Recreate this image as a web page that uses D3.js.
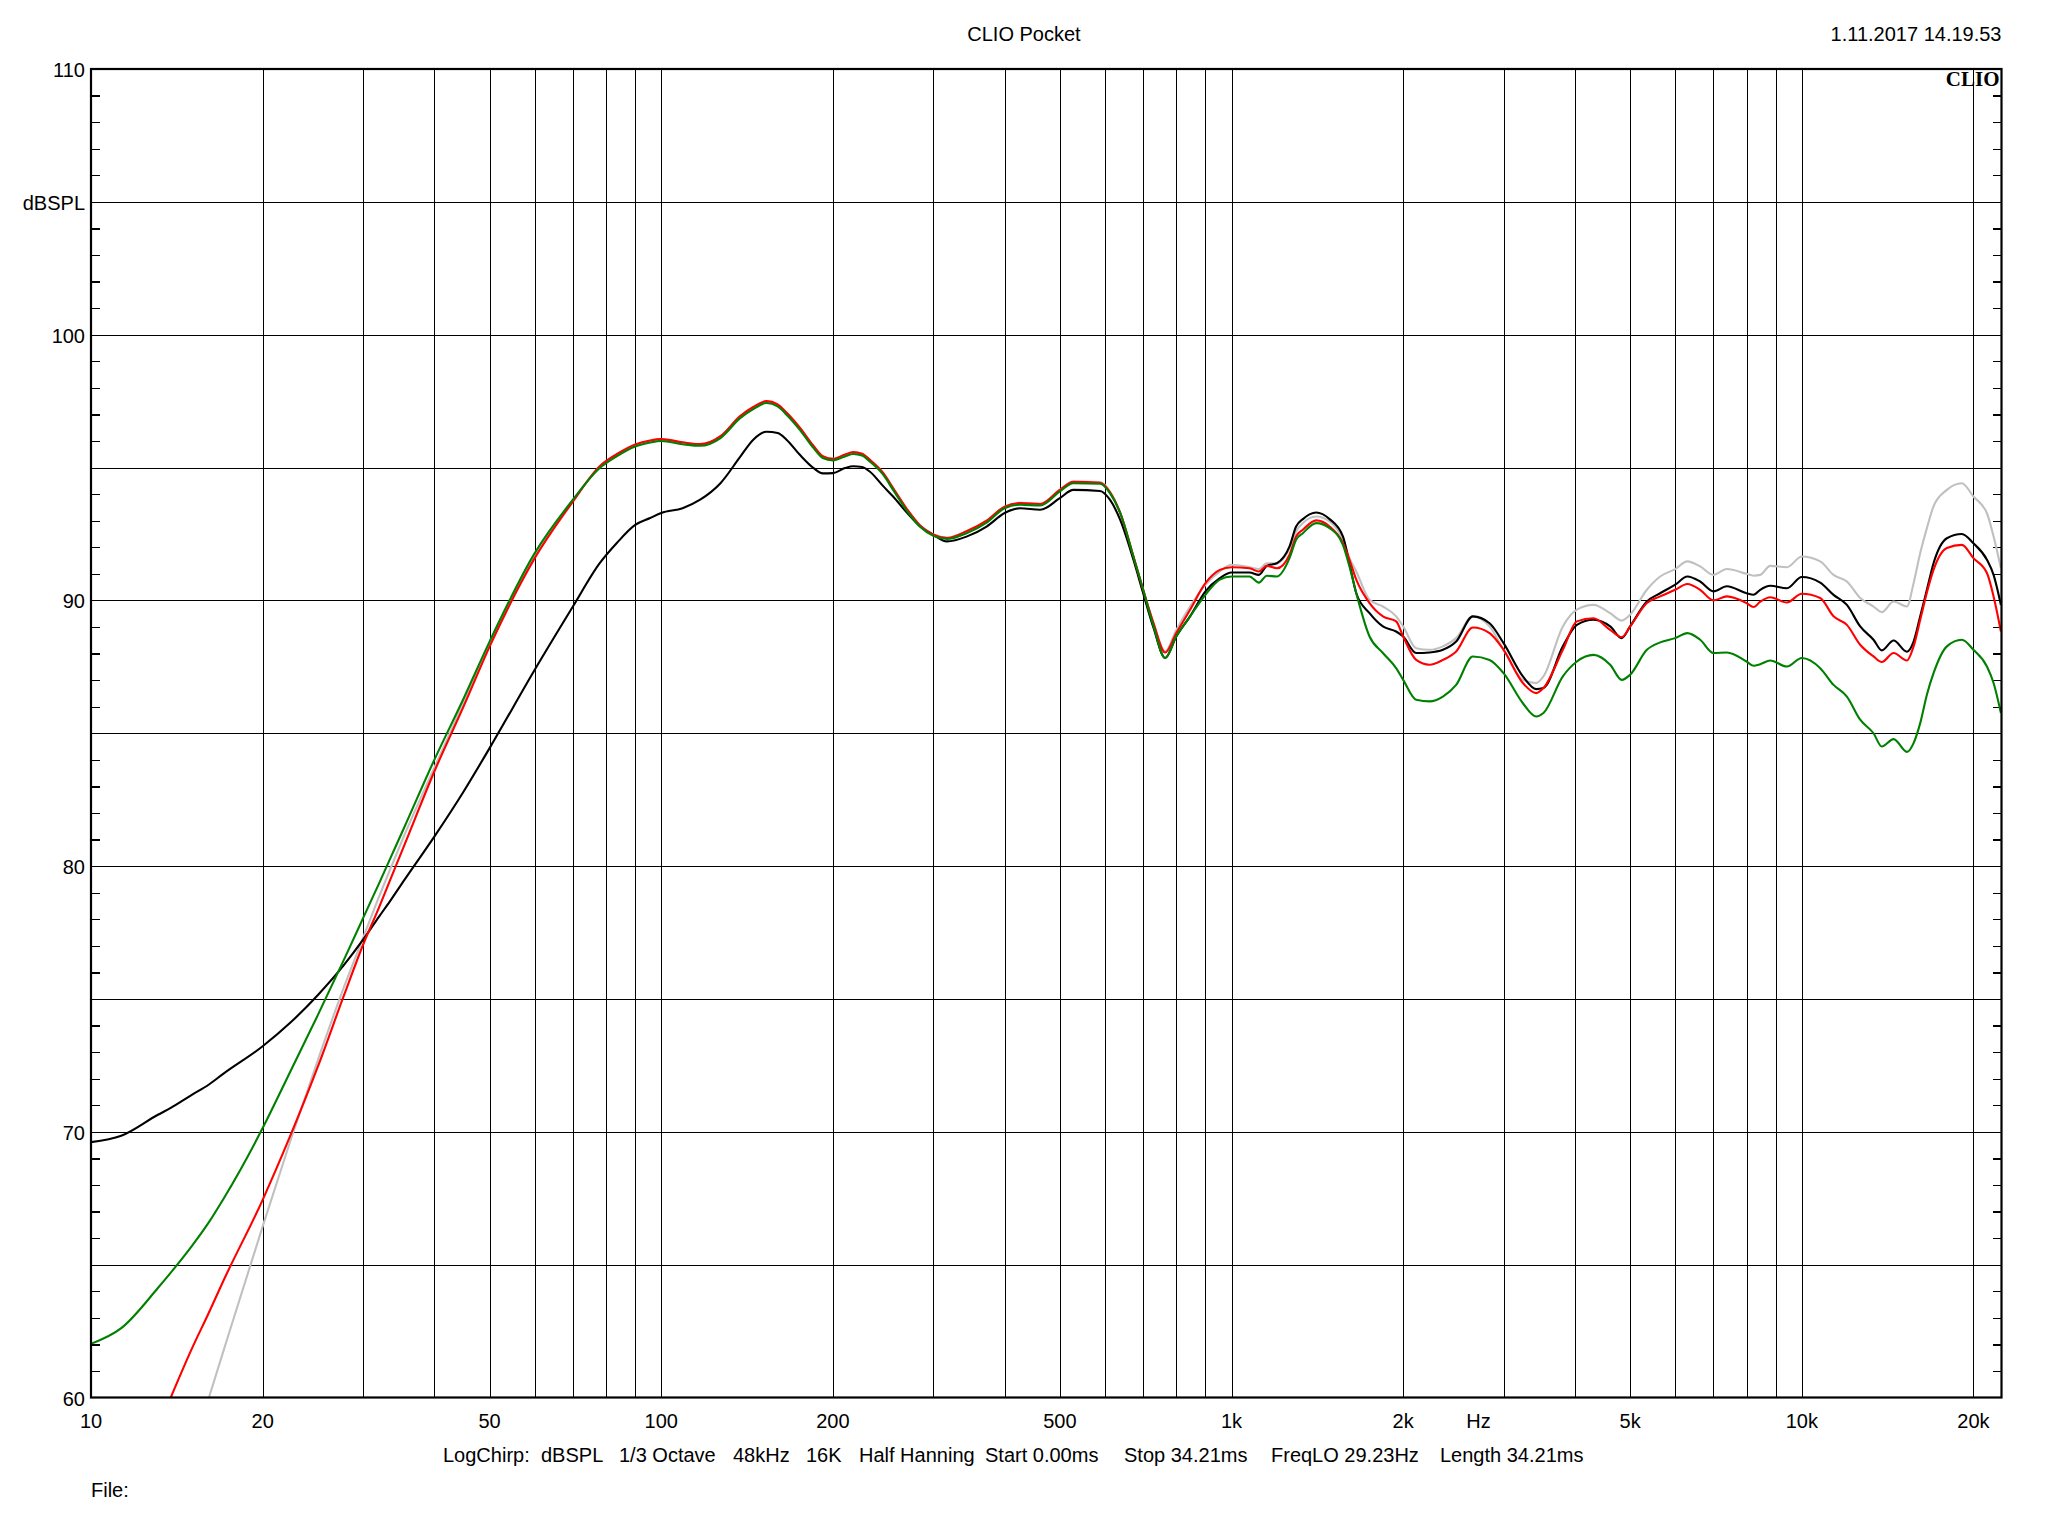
<!DOCTYPE html>
<html><head><meta charset="utf-8">
<script src="https://cdn.jsdelivr.net/npm/d3@7"></script>
<style>html,body{margin:0;padding:0;background:#fff}</style>
</head><body>
<svg id="c" width="2048" height="1536"></svg>
<script>
// ---- data (frequency in Hz, level in dBSPL) ----
const freqs = [10,11.3,13.1,13.8,15,16.1,17.1,20,22.4,25,27.8,30,32,33.5,35.5,40,45,50,60,70,
78,83.5,90,95.6,100,109,117,127,137.5,145,153,160,166,175,185,192,200,210,217,225,232,245,255,270,284,
300,317,343,372,400,426,462,500,528,588,612,638,673,700,730,765,800,846,900,954,1000,1075,1117,1153,1201,
1264,1298,1334,1408,1486,1568,1610,1655,1746,1843,1944,2000,2108,2225,2348,2477,2650,2835,3000,3243,3422,
3524,3811,4033,4313,4613,4834,5000,5350,5645,6000,6300,6634,7000,7390,8000,8233,8455,8805,9417,10000,
10773,11369,11998,12660,13360,13815,14489,15290,15707,16133,16573,17024,17966,19088,20000,21120,21694,22347];

const blackDb = [69.61,69.85,70.64,70.9,71.38,71.78,72.2,73.22,74.12,75.15,76.29,77.23,78.1,78.7,79.5,81.11,82.8,84.44,87.39,89.77,
91.4,92.15,92.84,93.1,93.29,93.47,93.79,94.41,95.4,96.05,96.35,96.3,96.04,95.48,94.98,94.78,94.79,94.98,95.05,95.02,94.85,94.3,93.91,93.29,92.8,
92.47,92.22,92.4,92.78,93.29,93.47,93.41,93.85,94.16,94.12,93.79,93.03,91.53,90.27,88.96,87.83,88.64,89.4,90.34,90.84,91.05,91.05,90.96,91.3,91.4,
92.03,92.78,93.06,93.31,93.06,92.41,91.4,90.27,89.52,89.02,88.83,88.64,88.02,88.04,88.14,88.45,89.4,89.14,88.39,87.14,86.66,
86.7,88.27,89.08,89.27,89.02,88.58,89.02,89.96,90.27,90.59,90.9,90.71,90.34,90.53,90.27,90.21,90.4,90.55,90.46,90.88,
90.67,90.21,89.83,89.02,88.52,88.12,88.49,88.07,88.45,89.4,90.4,91.4,92.34,92.5,92.15,91.53,90.96,89.83];

const redDb = [null,null,null,60.0,61.8,63.2,64.43,67.44,69.89,72.46,75.16,77.04,78.45,79.5,80.83,83.56,86.0,88.26,91.59,93.72,
95.05,95.5,95.87,96.02,96.07,95.95,95.88,96.18,96.94,97.28,97.5,97.38,97.06,96.5,95.81,95.43,95.33,95.49,95.58,95.52,95.3,94.8,94.23,93.42,92.83,
92.47,92.35,92.6,93.0,93.53,93.66,93.63,94.16,94.46,94.43,94.08,93.29,91.65,90.4,89.14,88.04,88.77,89.65,90.65,91.15,91.25,91.21,91.09,91.3,91.21,
91.72,92.41,92.66,93.01,92.78,92.16,91.53,90.78,89.9,89.4,89.21,88.64,87.76,87.58,87.76,88.08,88.98,88.77,88.14,86.89,86.51,
86.7,88.14,89.21,89.33,88.89,88.62,89.02,89.9,90.15,90.4,90.62,90.4,90.0,90.15,89.9,89.75,89.95,90.12,89.92,90.25,
90.09,89.4,89.08,88.33,87.89,87.68,88.02,87.74,88.27,89.27,90.3,91.15,91.97,92.09,91.59,91.03,90.15,88.83];

const grayDb = [null,null,null,null,null,60.0,61.8,66.44,69.7,72.71,75.47,77.3,78.85,79.9,81.2,83.7,86.15,88.35,91.65,93.76,
95.03,95.48,95.85,96.0,96.06,95.94,95.88,96.17,96.92,97.26,97.49,97.36,97.04,96.48,95.79,95.42,95.33,95.48,95.57,95.51,95.29,94.79,94.22,93.41,92.84,
92.49,92.37,92.6,93.0,93.53,93.67,93.64,94.16,94.47,94.45,94.1,93.29,91.65,90.4,89.14,88.08,88.89,89.77,90.59,91.09,91.34,91.25,91.18,91.4,91.4,
91.97,92.6,92.91,93.16,92.97,92.28,91.59,91.09,90.02,89.77,89.4,89.02,88.2,88.14,88.27,88.58,89.4,89.02,88.14,87.01,86.89,
87.14,89.02,89.65,89.83,89.52,89.24,89.46,90.4,90.9,91.18,91.47,91.28,90.96,91.18,91.0,90.93,90.96,91.3,91.25,91.65,
91.47,90.96,90.71,90.09,89.77,89.56,89.96,89.77,90.65,91.78,92.72,93.54,94.16,94.41,93.91,93.28,92.41,91.21];

const greenDb = [62.02,62.61,64.12,64.7,65.68,66.6,67.5,70.14,72.3,74.4,76.5,78.04,79.35,80.3,81.5,84.0,86.3,88.45,91.78,93.79,
94.98,95.42,95.79,95.94,96.0,95.88,95.82,96.11,96.86,97.2,97.43,97.3,96.98,96.42,95.73,95.36,95.27,95.42,95.51,95.45,95.23,94.73,94.16,93.35,92.78,
92.43,92.31,92.53,92.93,93.47,93.6,93.57,94.1,94.41,94.39,94.04,93.29,91.65,90.4,89.02,87.83,88.64,89.4,90.21,90.78,90.9,90.9,90.67,90.93,90.9,
91.59,92.28,92.53,92.91,92.72,92.09,91.28,90.27,88.64,88.02,87.45,87.01,86.26,86.2,86.38,86.82,87.89,87.76,87.26,86.13,85.63,
85.76,87.14,87.7,87.95,87.58,87.01,87.2,88.14,88.42,88.58,88.77,88.52,88.02,88.04,87.7,87.54,87.6,87.74,87.51,87.83,
87.45,86.82,86.38,85.51,85.0,84.5,84.78,84.3,84.63,85.38,86.45,87.26,88.27,88.52,88.14,87.51,86.89,85.76];

const seriesNames = ["gray","black","red","green"];
const seriesColors = ["#c0c0c0","#000000","#ff0000","#008000"];
const seriesValues = [grayDb, blackDb, redDb, greenDb];

const yLabelValues = [110,105,100,90,80,70,60];
const yLabelText = ["110","dBSPL","100","90","80","70","60"];
const xLabelValues = [10,20,50,100,200,500,1000,2000,2710,5000,10000,20000];
const xLabelText = ["10","20","50","100","200","500","1k","2k","Hz","5k","10k","20k"];
const xGridValues = [20,30,40,50,60,70,80,90,100,200,300,400,500,600,700,800,900,
  1000,2000,3000,4000,5000,6000,7000,8000,9000,10000,20000];
const yGridValues = [65,70,75,80,85,90,95,100,105];

const titleText = "CLIO Pocket";
const dateText = "1.11.2017 14.19.53";
const infoItems = ["LogChirp:","dBSPL","1/3 Octave","48kHz","16K","Half Hanning",
  "Start 0.00ms","Stop 34.21ms","FreqLO 29.23Hz","Length 34.21ms"];

// ---- layout ----
const L = 91, R = 2001.5, T = 69, B = 1397.5;
const FONT = "'Liberation Sans', Arial, sans-serif";
const FS = 20;
const svg = d3.select("#c");
svg.append("rect").attr("width",2048).attr("height",1536).attr("fill","#fff");

const x = d3.scaleLog().domain([10, 22400]).range([L, R]);
const y = d3.scaleLinear().domain([60, 110]).range([B, T]);

// grid
const grid = svg.append("g").attr("stroke","#000").attr("stroke-width",1).attr("shape-rendering","crispEdges");
grid.selectAll("line.v").data(xGridValues).join("line")
  .attr("x1", d => Math.round(x(d)) + 0.5).attr("x2", d => Math.round(x(d)) + 0.5)
  .attr("y1", T).attr("y2", B);
grid.selectAll("line.h").data(yGridValues).join("line")
  .attr("y1", d => Math.round(y(d)) + 0.5).attr("y2", d => Math.round(y(d)) + 0.5)
  .attr("x1", L).attr("x2", R);

// minor 1 dB ticks via axes (inward)
const minor = d3.range(61, 110).filter(v => v % 5 !== 0);
const la = svg.append("g").attr("transform", `translate(${L},0)`)
  .call(d3.axisLeft(y).tickValues(minor).tickSize(-9).tickFormat(""));
const ra = svg.append("g").attr("transform", `translate(${R},0)`)
  .call(d3.axisRight(y).tickValues(minor).tickSize(-9).tickFormat(""));
[la, ra].forEach(g => { g.select(".domain").remove();
  g.selectAll("line").attr("stroke","#000").attr("stroke-width",1.3).attr("shape-rendering","crispEdges"); });

// curves
svg.append("clipPath").attr("id","clip").append("rect")
  .attr("x", L).attr("y", T).attr("width", R - L).attr("height", B - T);
const line = d3.line()
  .defined(d => d[1] != null)
  .x(d => x(d[0])).y(d => y(d[1]))
  .curve(d3.curveMonotoneX);
const curves = svg.append("g").attr("clip-path","url(#clip)");
seriesValues.forEach((vals, i) => {
  const pts = freqs.map((f, k) => [f, vals[k]]);
  curves.append("path").datum(pts)
    .attr("class", seriesNames[i])
    .attr("fill","none").attr("stroke", seriesColors[i])
    .attr("stroke-width", 2.1).attr("stroke-linejoin","round")
    .attr("d", line);
});

// frame
svg.append("rect").attr("x", L).attr("y", T).attr("width", R - L).attr("height", B - T)
  .attr("fill","none").attr("stroke","#000").attr("stroke-width",2.2);

// y labels
svg.append("g").selectAll("text").data(yLabelValues).join("text")
  .attr("x", L - 6).attr("y", d => y(d) + 8)
  .attr("text-anchor","end").attr("font-family", FONT).attr("font-size", FS)
  .text((d, i) => yLabelText[i]);

// x labels
svg.append("g").selectAll("text").data(xLabelValues).join("text")
  .attr("x", d => x(d)).attr("y", 1428)
  .attr("text-anchor","middle").attr("font-family", FONT).attr("font-size", FS)
  .text((d, i) => xLabelText[i]);

// title, date, logo
svg.append("text").attr("x", 1024).attr("y", 41).attr("text-anchor","middle")
  .attr("font-family", FONT).attr("font-size", FS).text(titleText);
svg.append("text").attr("x", R).attr("y", 41).attr("text-anchor","end")
  .attr("font-family", FONT).attr("font-size", FS).text(dateText);
svg.append("text").attr("x", R - 2).attr("y", 86).attr("text-anchor","end")
  .attr("font-family", "'Liberation Serif', 'Times New Roman', serif").attr("font-weight","bold")
  .attr("font-size", 21).text("CLIO");

// info line
const infoX = [443, 541, 619, 733, 806, 859, 985, 1124, 1271, 1440];
svg.append("g").selectAll("text").data(infoItems).join("text")
  .attr("x", (d, i) => infoX[i]).attr("y", 1462)
  .attr("font-family", FONT).attr("font-size", FS).text(d => d);
svg.append("text").attr("x", L).attr("y", 1497)
  .attr("font-family", FONT).attr("font-size", FS).text("File:");
</script>
</body></html>
